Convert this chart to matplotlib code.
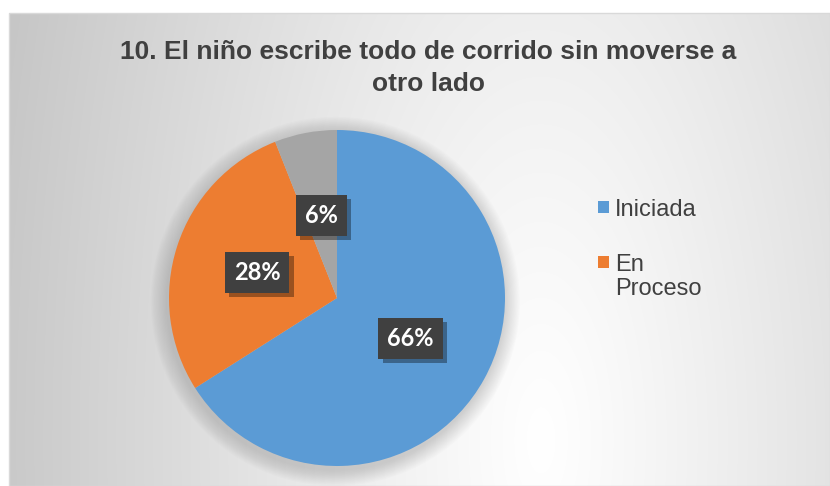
import numpy as np
import matplotlib.pyplot as plt
from matplotlib.patches import Rectangle, Circle
import matplotlib.patheffects as pe

# datos del grafico
titulo = '10. El niño escribe todo de corrido sin moverse a\notro lado'
categorias = ['Iniciada', 'En Proceso', 'No iniciada']
valores = [66, 28, 6]
colores = ['#5B9BD5', '#ED7D31', '#A5A5A5']
etiquetas_leyenda = ['Iniciada', 'En\nProceso']

W, H = 830, 486
fig = plt.figure(figsize=(W / 100, H / 100), dpi=100)

# fondo con degradado radial
fx0, fy0 = 9, 13
bw, bh = W - fx0, H - fy0
yy, xx = np.mgrid[0:bh, 0:bw]
xx = xx + fx0
yy = yy + fy0
d = np.sqrt(((xx - 540) / 560.0) ** 2 + ((yy - 440) / 1300.0) ** 2)
t = np.clip(d, 0, 1) ** 1.1
g = (255 - 57 * t) / 255.0
img = np.dstack([g, g, g])
bg = fig.add_axes([fx0 / W, 0, bw / W, bh / H])
bg.imshow(img, aspect='auto', extent=(0, 1, 0, 1), interpolation='bilinear')
bg.axis('off')
fig.patches.append(Rectangle((fx0 / W, 0), bw / W, bh / H, transform=fig.transFigure,
                             fill=False, edgecolor='#d9d9d9', linewidth=1))

# pastel
cx, cy, r = 337, 298, 168
ax = fig.add_axes([(cx - r) / W, (H - cy - r) / H, 2 * r / W, 2 * r / H])

# sombra suave
for k in range(14):
    rr = 1.0 + 0.007 * (14 - k)
    ax.add_patch(Circle((-0.01, -0.02), rr, facecolor='#7a7a7a', alpha=0.025,
                        edgecolor='none', clip_on=False, zorder=0))

wedges, texts, autotexts = ax.pie(valores, colors=colores, startangle=90, counterclock=False,
                                  autopct='%1.0f%%', pctdistance=0.5, radius=1.0,
                                  wedgeprops=dict(linewidth=0, zorder=1))
ax.set_xlim(-1, 1)
ax.set_ylim(-1, 1)
ax.axis('off')

for at in autotexts:
    at.set_fontfamily('Lato')
    at.set_fontweight('bold')
    at.set_fontsize(17)
    at.set_color('white')
    at.set_zorder(5)
    at.set_bbox(dict(boxstyle='square,pad=0.38', facecolor='#404040', edgecolor='none'))
    at.get_bbox_patch().set_path_effects([
        pe.SimplePatchShadow(offset=(3, -3), shadow_rgbFace='#000000', alpha=0.35),
        pe.Normal()])

# titulo (baseline de la ultima linea)
fig.text(428 / W, 1 - 91 / H, titulo, ha='center', va='baseline', fontsize=19,
         fontweight='bold', color='#404040', family='Liberation Sans', linespacing=1.4)

# leyenda: posicion del cuadro (linea superior) y baseline de la ultima linea
cuadro_y = [201, 256]
base_y = [216, 295]
for i, lab in enumerate(etiquetas_leyenda):
    fig.patches.append(Rectangle((598 / W, 1 - (cuadro_y[i] + 12) / H), 11 / W, 12 / H,
                                 transform=fig.transFigure, facecolor=colores[i],
                                 edgecolor='none'))
    fig.text(615 / W, 1 - base_y[i] / H, lab, ha='left', va='baseline', fontsize=17,
             color='#404040', family='Liberation Sans', linespacing=1.12)

fig.savefig('out.png', dpi=100)
